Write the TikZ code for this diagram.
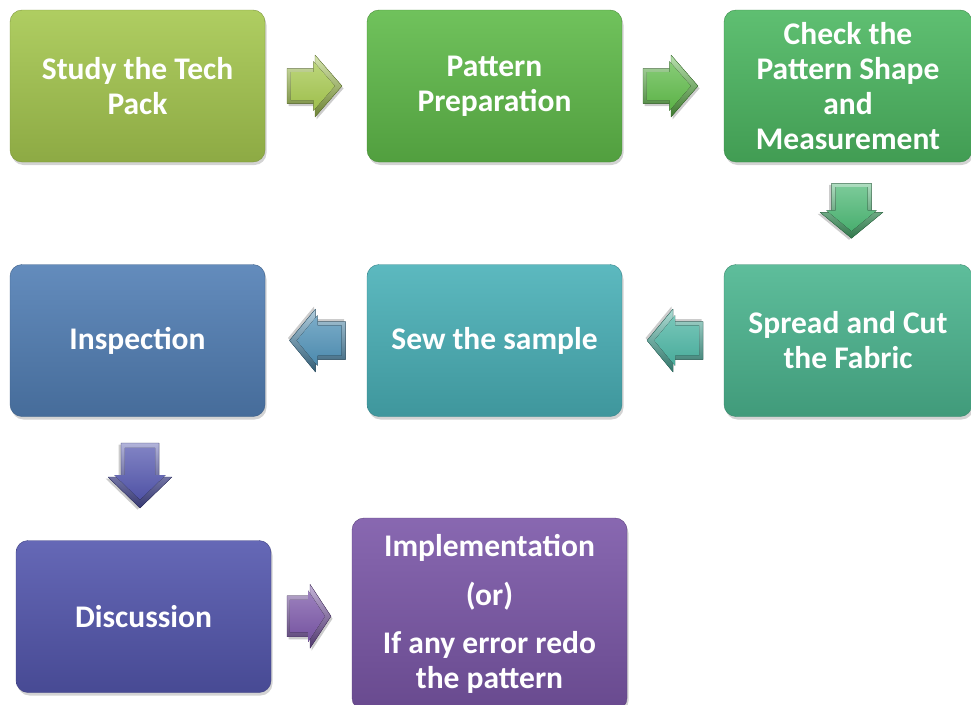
\documentclass[tikz,border=0pt]{standalone}
\usepackage{fontspec}
\setmainfont{Carlito}
\usetikzlibrary{shadows,calc}
\definecolor{cStudy}{HTML}{A6C850}
\definecolor{cPrep}{HTML}{60BB4A}
\definecolor{cCheck}{HTML}{4DB862}
\definecolor{cSpread}{HTML}{4CB690}
\definecolor{cSew}{HTML}{4AB1B8}
\definecolor{cInsp}{HTML}{527FB5}
\definecolor{cDisc}{HTML}{5457AE}
\definecolor{cImpl}{HTML}{7B57A8}
\begin{document}
\begin{tikzpicture}[x=1pt,y=-1pt, line join=round, line cap=round,
	box/.style={rounded corners=12pt, minimum width=255pt, minimum height=152pt, inner sep=0pt,
		align=center, text=white, font=\fontsize{31.5}{35}\selectfont\bfseries,
		top color=#1!90!white, bottom color=#1!85!black, draw=#1!75!black, line width=0.4pt,
		drop shadow={opacity=0.35, shadow xshift=1.5pt, shadow yshift=-3pt}},
	% block arrow: colour, half length, head length, half width, half shaft
	pics/blk/.style n args={5}{code={
		\def\arr{(-#2,-#5) -- ({#2-#3},-#5) -- ({#2-#3},-#4) -- (#2,0) -- ({#2-#3},#4) -- ({#2-#3},#5) -- (-#2,#5) -- cycle}
		\fill[black, opacity=0.2, shift={(1.5,2.5)}] \arr;
		\fill[top color=#1!45!white, bottom color=#1!65!black, draw=#1!60!black, line width=0.3pt] \arr;
		\fill[top color=#1!75!white, bottom color=#1!95!black, scale=0.8, shift={(-2,0)}] \arr;
	}}]
	\def\bw{255} \def\bh{152} % box size
	\useasboundingbox (0,0) rectangle (971,704);
	% first row
	\node[box=cStudy] (study) at (137.5,86) {Study the Tech\\Pack};
	\node[box=cPrep] (prep) at (494.5,86) {Pattern\\Preparation};
	\node[box=cCheck, minimum width=248pt] (check) at (848,86) {Check the\\Pattern Shape\\and\\Measurement};
	% second row
	\node[box=cSpread, minimum width=248pt] (spread) at (848,340.5) {Spread and Cut\\the Fabric};
	\node[box=cSew] (sew) at (494.5,340.5) {Sew the sample};
	\node[box=cInsp] (inspect) at (137.5,340.5) {Inspection};
	% third row
	\node[box=cDisc] (discuss) at (143.5,616.5) {Discussion};
	\node[box=cImpl, minimum width=275pt, minimum height=192pt] (impl) at (489.5,614)
		{Implementation\\[14pt](or)\\[13pt]If any error redo\\the pattern};
	% block arrows between the boxes
	\pic at ($(study.east)!0.5!(prep.west)+(-1.5,0)$) {blk={cStudy}{27.5}{27}{31}{17.5}};
	\pic at ($(prep.east)!0.5!(check.west)+(-2.5,0)$) {blk={cPrep}{27.5}{27}{31}{17.5}};
	\pic[rotate=-90] at ($(check.south)!0.5!(spread.north)+(3.5,-2.5)$) {blk={cCheck!60!cSpread}{27.5}{26}{31.5}{20}};
	\pic[rotate=180] at ($(spread.west)!0.5!(sew.east)+(2,0)$) {blk={cSpread!55!cSew}{28}{26}{31.5}{19}};
	\pic[rotate=180] at ($(sew.west)!0.5!(inspect.east)+(1.5,0)$) {blk={cSew!35!cInsp}{28}{26}{31.5}{19}};
	\pic[rotate=-90] at ($(inspect.south)!0.5!(discuss.north)+(-0.5,-3)$) {blk={cDisc}{32.5}{31}{32}{19}};
	\pic at ($(discuss.east)!0.5!(impl.west)+(-2.5,1)$) {blk={cImpl}{22}{21}{32}{20.5}};
\end{tikzpicture}
\end{document}
